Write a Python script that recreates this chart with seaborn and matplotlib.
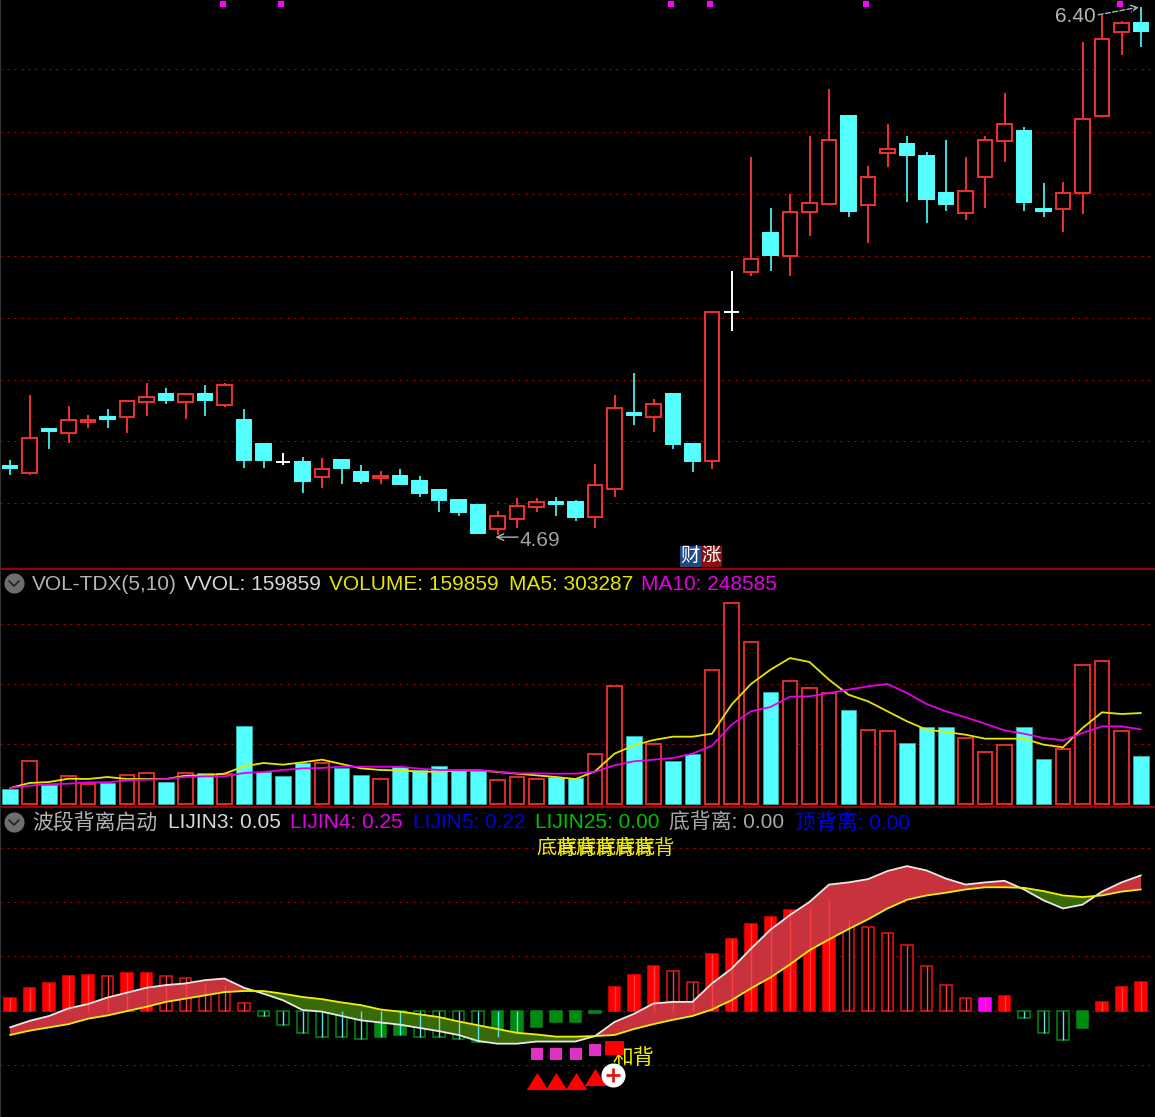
import numpy as np
import seaborn as sns
import matplotlib.pyplot as plt

# candles
open_p = [4.913, 4.890, 5.033, 5.020, 5.056, 5.072, 5.072, 5.121, 5.146, 5.121,
          5.146, 5.111, 5.062, 4.984, 4.926, 4.926, 4.878, 4.933, 4.894, 4.875,
          4.881, 4.865, 4.835, 4.803, 4.787, 4.709, 4.741, 4.780, 4.796, 4.797,
          4.748, 4.839, 5.085, 5.072, 5.146, 4.984, 4.929, 5.412, 5.542, 5.668,
          5.594, 5.736, 5.762, 6.047, 5.759, 5.927, 5.956, 5.918, 5.798, 5.733,
          5.850, 5.966, 5.999, 5.746, 5.746, 5.798, 6.047, 6.319, 6.348]
close_p = [4.907, 5.004, 5.027, 5.062, 5.062, 5.066, 5.124, 5.137, 5.127, 5.146,
           5.127, 5.176, 4.933, 4.933, 4.926, 4.865, 4.903, 4.907, 4.865, 4.881,
           4.855, 4.826, 4.803, 4.764, 4.696, 4.751, 4.784, 4.797, 4.790, 4.748,
           4.852, 5.101, 5.079, 5.114, 4.984, 4.929, 5.412, 5.412, 5.584, 5.597,
           5.736, 5.765, 5.969, 5.739, 5.850, 5.940, 5.921, 5.778, 5.762, 5.804,
           5.969, 6.021, 5.769, 5.740, 5.798, 6.037, 6.297, 6.348, 6.323]
high_p = [4.933, 5.143, 5.030, 5.108, 5.078, 5.098, 5.124, 5.182, 5.166, 5.146,
          5.176, 5.182, 5.098, 4.984, 4.955, 4.942, 4.939, 4.933, 4.916, 4.897,
          4.903, 4.881, 4.835, 4.803, 4.787, 4.767, 4.809, 4.809, 4.813, 4.803,
          4.920, 5.143, 5.214, 5.130, 5.146, 4.984, 5.412, 5.545, 5.914, 5.749,
          5.794, 5.982, 6.135, 6.047, 5.885, 6.021, 5.982, 5.931, 5.969, 5.914,
          5.982, 6.122, 6.012, 5.830, 5.833, 6.287, 6.374, 6.355, 6.400]
low_p = [4.884, 4.884, 4.968, 4.988, 5.036, 5.036, 5.020, 5.075, 5.114, 5.065,
         5.075, 5.104, 4.907, 4.907, 4.916, 4.826, 4.842, 4.855, 4.855, 4.855,
         4.855, 4.813, 4.764, 4.751, 4.696, 4.690, 4.712, 4.764, 4.751, 4.735,
         4.712, 4.813, 5.046, 5.023, 4.968, 4.894, 4.903, 5.351, 5.529, 5.545,
         5.529, 5.658, 5.762, 5.720, 5.636, 5.882, 5.769, 5.700, 5.739, 5.710,
         5.749, 5.898, 5.739, 5.720, 5.671, 5.730, 6.047, 6.245, 6.271]
price_grid = [6.199, 5.995, 5.794, 5.594, 5.393, 5.192, 4.994, 4.793]
flag_idx = [11, 14, 34, 36, 44, 57]
flag_price = 6.41

# volume pane
volume = [51100, 144400, 64400, 92200, 67800, 70000, 97800, 103300, 74400, 103300,
          103300, 101100, 261100, 105500, 92200, 136700, 136700, 120000, 97800, 84400,
          122200, 114400, 127800, 108900, 111100, 78900, 90000, 84400, 88900, 86700,
          166700, 394400, 225500, 201100, 144400, 167800, 447700, 668800, 539900, 372200,
          411100, 387700, 370000, 314400, 247800, 242200, 203300, 255500, 255500, 220000,
          172200, 196600, 255500, 150000, 184400, 464400, 475500, 242200, 159859]
vol_up = [1, 3, 4, 6, 7, 9, 11, 16, 19, 25, 26, 27, 30, 31, 33, 36, 37, 38, 40, 41,
          42, 44, 45, 49, 50, 51, 54, 55, 56, 57]
ma5 = [53300, 70000, 73300, 84400, 83300, 90000, 83300, 83300, 83300, 94400,
       95500, 101100, 125500, 136700, 131100, 138900, 147800, 133300, 118900, 113300,
       112200, 107800, 107800, 111100, 112200, 106700, 101100, 95500, 90000, 83300,
       108900, 167800, 195500, 213300, 224400, 224400, 234400, 331100, 400000, 447700,
       486600, 473300, 414400, 364400, 342200, 308900, 275500, 247800, 240000, 231100,
       217800, 217800, 217800, 197800, 188900, 253300, 305500, 300000, 303287]
ma10 = [53300, 61100, 65500, 67800, 72200, 72200, 78900, 81100, 83300, 90000,
        92200, 92200, 103300, 106700, 113300, 118900, 120000, 124400, 124400, 124400,
        124400, 117800, 113300, 113300, 113300, 107800, 102200, 102200, 101100, 101100,
        107800, 128900, 142200, 147800, 153300, 167800, 194400, 264400, 308900, 323300,
        357700, 358900, 370000, 381100, 392200, 400000, 370000, 333300, 308900, 288900,
        267800, 245500, 234400, 220000, 212200, 236600, 258900, 258900, 248585]
vol_grid = [200000, 400000, 600000]

# indicator pane
lijin3 = [0.024, 0.041, 0.050, 0.063, 0.066, 0.063, 0.069, 0.069, 0.063, 0.060,
          0.050, 0.047, 0.014, -0.010, -0.026, -0.042, -0.049, -0.049, -0.053, -0.049,
          -0.045, -0.049, -0.049, -0.052, -0.058, -0.049, -0.039, -0.030, -0.021, -0.021,
          -0.004, 0.044, 0.066, 0.082, 0.072, 0.053, 0.105, 0.131, 0.160, 0.172,
          0.185, 0.187, 0.201, 0.169, 0.153, 0.143, 0.120, 0.082, 0.047, 0.024,
          0.024, 0.027, -0.014, -0.042, -0.055, -0.033, 0.015, 0.044, 0.053]
hollow_idx = [5, 8, 9, 10, 11, 12, 13, 14, 15, 16, 17, 18, 21, 22, 23, 24, 34, 35,
              43, 44, 45, 46, 47, 48, 49, 52, 53, 54]
magenta_idx = [50]
lijin4 = [-0.031, -0.019, -0.010, 0.004, 0.012, 0.024, 0.033, 0.042, 0.047, 0.050,
          0.056, 0.059, 0.042, 0.031, 0.019, 0.001, -0.002, -0.010, -0.018, -0.022,
          -0.026, -0.032, -0.038, -0.045, -0.056, -0.061, -0.061, -0.057, -0.057, -0.057,
          -0.047, -0.021, -0.006, 0.013, 0.016, 0.016, 0.050, 0.077, 0.114, 0.149,
          0.176, 0.200, 0.232, 0.236, 0.242, 0.257, 0.266, 0.258, 0.243, 0.232,
          0.236, 0.239, 0.223, 0.203, 0.188, 0.195, 0.219, 0.236, 0.249]
lijin5 = [-0.045, -0.037, -0.031, -0.025, -0.015, -0.009, -0.001, 0.007, 0.016, 0.022,
          0.028, 0.034, 0.036, 0.036, 0.031, 0.025, 0.021, 0.015, 0.010, 0.002,
          -0.002, -0.007, -0.012, -0.020, -0.027, -0.034, -0.041, -0.044, -0.048, -0.048,
          -0.047, -0.045, -0.034, -0.025, -0.017, -0.010, 0.002, 0.019, 0.041, 0.061,
          0.085, 0.111, 0.131, 0.150, 0.168, 0.188, 0.204, 0.212, 0.217, 0.223,
          0.227, 0.227, 0.226, 0.220, 0.212, 0.209, 0.212, 0.219, 0.223]
lijin_grid = [0.3, 0.2, 0.1, 0.0, -0.1]
div_text_idx = [27, 28, 29, 30, 31, 32]
div_text_level = 0.298
square_idx = [27, 28, 29, 30]
square_level = [-0.080, -0.080, -0.080, -0.072]
tri_idx = [27, 28, 29, 30]
tri_level = [-0.129, -0.129, -0.129, -0.122]
start_idx = 31
start_top = -0.056
start_bottom = -0.081

RED = '#f03030'
CYAN = '#54ffff'
GRID = '#c00000'
W, H = 1155, 1117

sns.set_theme(style='dark', rc={'axes.facecolor': 'black', 'figure.facecolor': 'black'})
plt.rcParams['font.family'] = ['Liberation Sans', 'Noto Sans CJK SC', 'DejaVu Sans']

n = len(close_p)
idx = np.arange(n)
fig = plt.figure(figsize=(W / 100, H / 100), dpi=100)


def pane(top, bottom, ylim):
    ax = fig.add_axes([0, 1 - bottom / H, 1, (bottom - top) / H])
    ax.set_facecolor('black')
    ax.set_ylim(*ylim)
    return ax


def finish(ax, ylim, levels):
    for level in levels:
        ax.axhline(level, color=GRID, lw=0.72, ls=(0, (2, 5)), zorder=1)
    ax.set_xlim(-10 / 19.5, 1145 / 19.5)
    ax.set_ylim(*ylim)
    ax.set_xticks([])
    ax.set_yticks([])
    ax.set_xlabel('')
    ax.set_ylabel('')
    for s in ax.spines.values():
        s.set_visible(False)


# price pane
ylim1 = (4.583, 6.423)
ax1 = pane(0, 568, ylim1)
for i in range(n):
    up = close_p[i] > open_p[i]
    flat = close_p[i] == open_p[i]
    col = 'white' if flat else (RED if up else CYAN)
    wick = col if col != CYAN else '#3fdede'
    ax1.vlines(i, low_p[i], high_p[i], color=wick, lw=1.4, zorder=2)
    lo, hi = min(open_p[i], close_p[i]), max(open_p[i], close_p[i])
    face = 'black' if up else col
    ax1.bar(i, hi - lo, bottom=lo, width=0.74, facecolor=face, edgecolor=col, lw=1.4, zorder=3)
sns.scatterplot(x=[i - 0.1 for i in flag_idx], y=[flag_price] * len(flag_idx), marker='s',
                color='#ff00ff', s=18, linewidth=0, ax=ax1, zorder=4)
finish(ax1, ylim1, price_grid)
ax1.text(55.7, 6.368, '6.40', color='#b4b4b4', fontsize=15, ha='right', va='center')
ax1.annotate('', xy=(57.9, 6.40), xytext=(55.8, 6.375),
             arrowprops=dict(arrowstyle='->', color='#b4b4b4', lw=1.0, ls='--', shrinkA=0, shrinkB=0))
ax1.text(26.15, 4.673, '4.69', color='#a0a0a0', fontsize=15, ha='left', va='center')
ax1.annotate('', xy=(24.9, 4.683), xytext=(26.05, 4.683),
             arrowprops=dict(arrowstyle='->', color='#b4b4b4', lw=1.0, shrinkA=0, shrinkB=0))

# volume pane
ylim2 = (-10000, 780000)
ax2 = pane(570, 807, ylim2)
vol_dn = [i for i in idx if i not in vol_up]
sns.barplot(x=[i for i in vol_dn], y=[volume[i] for i in vol_dn], native_scale=True, orient='x',
            color=CYAN, saturation=1, edgecolor='#2fa8a8', linewidth=0.7, width=0.8,
            errorbar=None, ax=ax2, zorder=2)
sns.barplot(x=vol_up, y=[volume[i] for i in vol_up], native_scale=True, orient='x',
            color='black', saturation=1, edgecolor='#e02c2c', linewidth=1.4, width=0.76,
            errorbar=None, ax=ax2, zorder=2)
sns.lineplot(x=idx, y=ma5, color='#e6e600', lw=1.3, errorbar=None, ax=ax2, zorder=4)
sns.lineplot(x=idx, y=ma10, color='#e600e6', lw=1.3, errorbar=None, ax=ax2, zorder=4)
finish(ax2, ylim2, vol_grid)

# indicator pane
ylim3 = (-0.196, 0.373)
ax3 = pane(808, H, ylim3)
lj3 = np.array(lijin3)
hollow = np.isin(idx, hollow_idx)
magenta = np.isin(idx, magenta_idx)
up3 = lj3 > 0
groups = [(up3 & ~hollow & ~magenta, '#ff0000', '#ff0000'),
          (up3 & hollow, 'black', '#f01010'),
          (~up3 & ~hollow, '#008a10', '#008a10'),
          (~up3 & hollow, 'black', '#008a10'),
          (magenta, '#ff00ff', '#ff00ff')]
for mask, face, edge in groups:
    sns.barplot(x=idx[mask], y=lj3[mask], native_scale=True, orient='x', color=face, saturation=1,
                edgecolor=edge, linewidth=1.1, width=0.6, errorbar=None, ax=ax3, zorder=2)
sns.scatterplot(x=square_idx, y=square_level, marker='s', color='#e030c8', s=82, linewidth=0,
                ax=ax3, zorder=3)
tri = [(-1, -0.8), (0, 0.8), (1, -0.8)]
sns.scatterplot(x=tri_idx, y=tri_level, marker=tri, color='#ff0000', s=240, linewidth=0,
                ax=ax3, zorder=3)
ax3.text(30.9, -0.088, '和背', color='#f0f000', fontsize=15, ha='left', va='center', zorder=3)
ax3.bar(start_idx, start_top - start_bottom, bottom=start_bottom, width=0.95,
        facecolor='#ff0000', edgecolor='#ff0000', lw=0, zorder=4)
up_band = np.array(lijin4) >= np.array(lijin5)
ax3.fill_between(idx, lijin4, lijin5, where=up_band, interpolate=True, color='#c8323c', lw=0, zorder=5)
ax3.fill_between(idx, lijin4, lijin5, where=~up_band, interpolate=True, color='#3a6a08', lw=0, zorder=5)
# stripes of the histogram show through the band
ax3.vlines(idx[up3], 0, lj3[up3], color='#ff4040', lw=1.0, zorder=6)
mid_dn = ~up3 & (hollow | (idx < 27))
ax3.vlines(idx[mid_dn], 0, lj3[mid_dn], color='#55e6e6', lw=1.0, zorder=6)
sns.lineplot(x=idx, y=lijin4, color='#e8e8e8', lw=1.3, errorbar=None, ax=ax3, zorder=7)
sns.lineplot(x=idx, y=lijin5, color='#f0f000', lw=1.3, errorbar=None, ax=ax3, zorder=7)
for i in div_text_idx:
    ax3.text(i, div_text_level, '底背', color='#f0f000', fontsize=14.5, ha='left', va='center', zorder=8)
sns.scatterplot(x=[30.9], y=[-0.118], marker='o', color='white', s=300, linewidth=0, ax=ax3, zorder=9)
sns.scatterplot(x=[30.9], y=[-0.118], marker='+', color='#e01818', s=90, linewidth=2, ax=ax3, zorder=10)
finish(ax3, ylim3, lijin_grid)

# headers and separators, in picture pixels
over = fig.add_axes([0, 0, 1, 1], facecolor='none')
over.set_xlim(0, W)
over.set_ylim(H, 0)
over.axis('off')
over.plot([0, W], [569, 569], color='#a00000', lw=1.4)
over.plot([0, W], [807, 807], color='#a00000', lw=1.4)
over.plot([0, 0], [0, H], color='#333333', lw=1.5)
for yc in (583, 822):
    over.scatter([14], [yc], s=210, color='#6e6e6e', linewidths=0)
    over.plot([9, 14, 19], [yc - 2, yc + 3, yc - 2], color='#222222', lw=1.2)

row_vol = [(32, 'VOL-TDX(5,10)', '#b4b4b4'), (184, 'VVOL: 159859', '#d8d8d8'),
           (329, 'VOLUME: 159859', '#e6e600'), (509, 'MA5: 303287', '#e6e600'),
           (641, 'MA10: 248585', '#e600e6')]
row_ind = [(32, '波段背离启动', '#b4b4b4'), (168, 'LIJIN3: 0.05', '#d8d8d8'),
           (290, 'LIJIN4: 0.25', '#e600e6'), (413, 'LIJIN5: 0.22', '#0000e0'),
           (535, 'LIJIN25: 0.00', '#00c000'), (669, '底背离: 0.00', '#a8a8a8'),
           (795, '顶背离: 0.00', '#0000e0')]
for x, s, c in row_vol:
    over.text(x, 584, s, color=c, fontsize=15, ha='left', va='center')
for x, s, c in row_ind:
    over.text(x, 823, s, color=c, fontsize=15, ha='left', va='center')

# finance badge
over.fill_between([680, 701], 546, 567, color='#1d4a86', lw=0)
over.fill_between([701, 722], 546, 567, color='#8a1010', lw=0)
over.text(690, 556, '财', color='white', fontsize=14, ha='center', va='center')
over.text(711, 556, '涨', color='white', fontsize=14, ha='center', va='center')
over.set_xlim(0, W)
over.set_ylim(H, 0)

fig.savefig('out.png', dpi=100, facecolor='black')
